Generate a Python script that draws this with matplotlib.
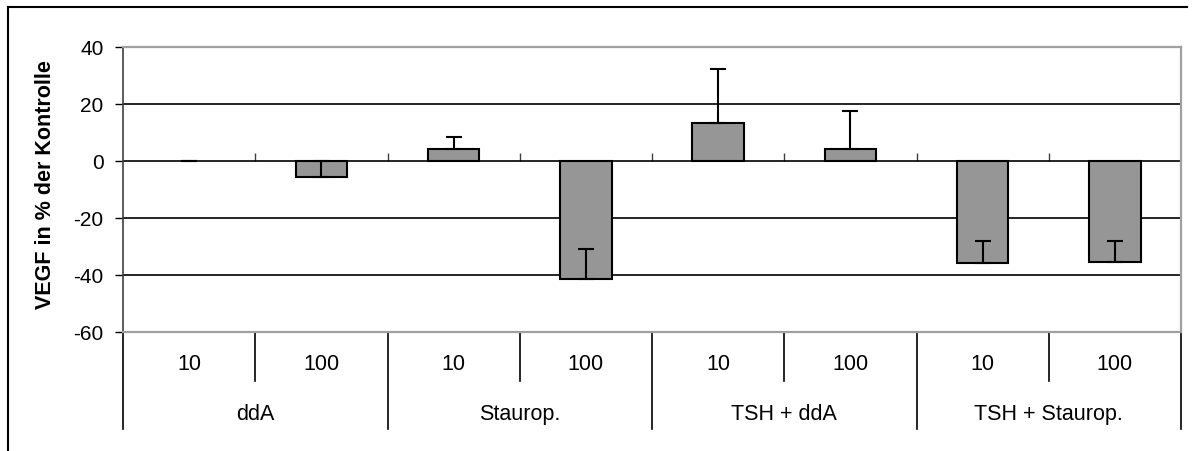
import numpy as np
import matplotlib
matplotlib.use("Agg")
import matplotlib.pyplot as plt
from matplotlib.lines import Line2D

plt.rcParams['font.family'] = ['Liberation Sans', 'DejaVu Sans']

# data
groups = ["ddA", "Staurop.", "TSH + ddA", "TSH + Staurop."]
doses = ["10", "100"]
values = [0.0, -5.6, 4.2, -41.4, 13.2, 4.2, -35.9, -35.3]
errors = [0.0, 5.6, 4.1, 10.4, 19.0, 13.2, 7.7, 7.1]
yticks = [-60, -40, -20, 0, 20, 40]

fig = plt.figure(figsize=(11.96, 4.52), dpi=100)
ax = fig.add_axes([123 / 1196, 1 - 333 / 452, 1058 / 1196, 285 / 452])

x = np.arange(len(values))
lw = [0 if v == 0 else 1.5 for v in values]
ax.bar(x, values, width=0.39, color="#969696", edgecolor="black",
       linewidth=lw, zorder=3)
# one-sided error bars pointing up
ax.errorbar(x, values, yerr=[np.zeros(len(errors)), errors], fmt="none",
            ecolor="black", elinewidth=1.5, capsize=5.5, capthick=1.5, zorder=4)

ax.set_xlim(-0.5, len(values) - 0.5)
ax.set_ylim(-60, 40)
ax.set_yticks(yticks)
ax.set_yticklabels([str(t) for t in yticks], fontsize=15)
ax.tick_params(axis="y", direction="out", length=6, width=1, pad=8)
ax.set_xticks([])
for y in yticks[1:-1]:
    ax.axhline(y, color="black", linewidth=1.2, zorder=1)

for s in ["top", "bottom", "right"]:
    ax.spines[s].set_color("#a0a0a0")
    ax.spines[s].set_linewidth(1.6)
ax.spines["left"].set_color("#404040")
ax.spines["left"].set_linewidth(1.2)

ax.set_ylabel("VEGF in % der Kontrolle", fontsize=15.5, fontweight="bold")
ax.yaxis.set_label_coords(-0.063, 0.52)

# category tick marks on the zero line
sec = ax.secondary_xaxis(0.6)
sec.set_xticks(np.arange(0.5, len(values) - 1, 1.0))
sec.set_xticklabels([])
sec.tick_params(direction="out", length=6, width=1, color="#404040")
sec.spines["bottom"].set_visible(False)
sec.spines["top"].set_visible(False)

# two-level category axis
tr = ax.get_xaxis_transform()
for i in range(len(values)):
    ax.text(i, -0.112, doses[i % 2], transform=tr, ha="center", va="center", fontsize=15.5)
for g, name in enumerate(groups):
    ax.text(2 * g + 0.5, -0.285, name, transform=tr, ha="center", va="center", fontsize=15.5)
for b in range(len(values) + 1):
    xb = b - 0.5
    y_end = -0.34 if b % 2 == 0 else -0.172
    ax.add_line(Line2D([xb, xb], [0, y_end], transform=tr, color="black",
                       linewidth=1.2, clip_on=False))

# outer frame (top and left edges visible)
fig.add_artist(Line2D([8 / 1196, 1187 / 1196], [1 - 8 / 452, 1 - 8 / 452],
                      transform=fig.transFigure, color="black", linewidth=1.5))
fig.add_artist(Line2D([8 / 1196, 8 / 1196], [1 - 8 / 452, 0],
                      transform=fig.transFigure, color="black", linewidth=1.5))

fig.savefig("out.png", dpi=100)
